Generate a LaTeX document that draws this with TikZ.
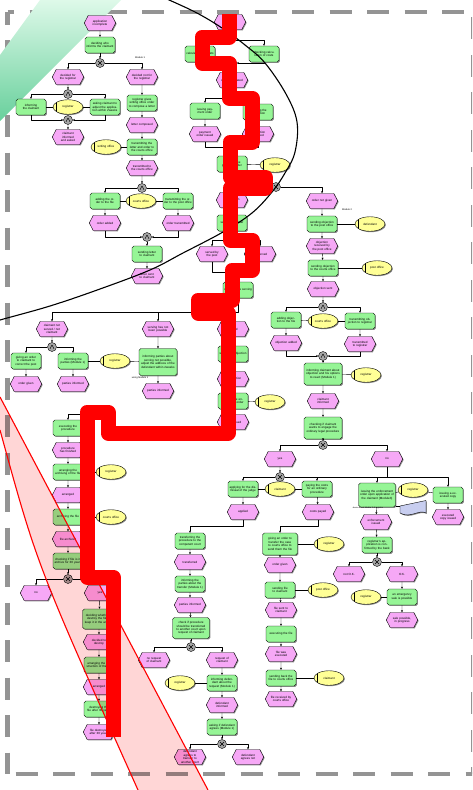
\documentclass[tikz,border=0pt]{standalone}
\usepackage{fontspec}
\setmainfont{Liberation Sans}
\usetikzlibrary{shapes.geometric,shapes.symbols,shadows,arrows.meta}
\definecolor{evpink}{RGB}{246,168,246}
\definecolor{fngreen}{RGB}{150,245,150}
\definecolor{orgyel}{RGB}{255,255,150}
\definecolor{docblue}{RGB}{200,206,240}
\definecolor{bandgreen}{RGB}{104,208,156}
\definecolor{bandlight}{RGB}{222,249,233}
\definecolor{bandpink}{RGB}{255,214,214}
\tikzset{
  shdw/.style={drop shadow={shadow xshift=0.9pt,shadow yshift=-0.9pt,fill=black!45,opacity=1}},
  ev/.style={signal, signal to=west and east, signal pointer angle=125, draw, thin, fill=evpink,
    minimum width=30pt, minimum height=15pt, inner sep=0.3pt, text width=23pt, align=center, shdw},
  fn/.style={rectangle, rounded corners=1.8pt, draw, thin, fill=fngreen, minimum width=30pt,
    minimum height=16pt, inner sep=0.5pt, text width=28pt, align=center, shdw},
  fnbig/.style={fn, minimum width=38pt, minimum height=22pt, text width=35pt},
  org/.style={ellipse, draw, thin, fill=orgyel, minimum width=30pt, minimum height=14.5pt,
    inner sep=0pt, text width=21pt, align=center, shdw, path picture={\draw[thin]
    ([xshift=3.2pt]path picture bounding box.south west) -- ([xshift=3.2pt]path picture bounding box.north west);}},
  con/.style={circle, draw, thin, fill=black!35, minimum size=9pt, inner sep=0pt},
  xorc/.style={con, path picture={\draw[line width=0.45pt]
    ([shift={(-2pt,-2pt)}]path picture bounding box.center) -- ([shift={(2pt,2pt)}]path picture bounding box.center)
    ([shift={(-2pt,2pt)}]path picture bounding box.center) -- ([shift={(2pt,-2pt)}]path picture bounding box.center);}},
  andc/.style={con, path picture={\draw[line width=0.45pt]
    ([shift={(-2pt,-1.8pt)}]path picture bounding box.center) -- ([shift={(0pt,2pt)}]path picture bounding box.center)
    -- ([shift={(2pt,-1.8pt)}]path picture bounding box.center);}},
  lbl/.style={font=\fontsize{2.4}{2.8}\selectfont, inner sep=0pt},
  frame/.style={line width=4.5pt, draw=black!42, dash pattern=on 22pt off 15.5pt},
}
\begin{document}
\begin{tikzpicture}[x=1pt, y=-1pt, font=\fontsize{3}{3.4}\selectfont, line join=round, >={Stealth[length=2.2pt,width=2pt]}]
\path[use as bounding box] (0,0) rectangle (472,790);
\clip (0,0) rectangle (472,790);
% dashed frame
\draw[frame, dash phase=15.5pt] (7.5,12) -- (473.5,12);
\draw[frame, dash phase=9.5pt] (7.5,12) -- (7.5,774);
\draw[frame, dash phase=29.5pt] (7.5,774) -- (473.5,774);
\draw[frame, dash phase=32.5pt] (473.5,12) -- (473.5,774);
% green stroke
\shade[top color=bandlight, bottom color=bandgreen] (0,121) -- (121,0) -- (40,0) -- (0,55) -- cycle;

% module 1
\node[ev] (eA0) at (100,23) {application incomplete};
\node[fn] (fA1) at (100,45) {deciding who informs the claimant};
\node[xorc] (xA1) at (100,63) {};
\node[lbl] (mA) at (140,58) {Module 1};
\node[ev] (eA2) at (68,77) {decided for the registrar};
\node[ev] (eA3) at (142,77) {decided not for the registrar};
\node[andc] (aA1) at (68,94) {};
\node[fn] (fA4) at (31,107) {informing the claimant};
\node[org] (oA1) at (68,107) {registrar};
\node[fn] (fA5) at (105,107) {asking claimant to adjust the application within 2weeks};
\node[andc] (aA2) at (68,120) {};
\node[ev] (eA6) at (68,137) {claimant informed and asked};
\node[fn] (fA7) at (142,103) {registrar gives writing office order to compose a letter};
\node[ev] (eA8) at (142,125) {letter composed};
\node[fn] (fA9) at (142,147) {transmitting the letter and order to the courts office};
\node[org] (oA2) at (106,147) {writing office};
\node[ev] (eA10) at (142,168) {transmitted to the courts office};
\node[andc] (aA3) at (142,188) {};
\node[fn] (fA11) at (105,201) {adding the order to the file};
\node[org] (oA3) at (141,201) {courts office};
\node[fn] (fA12) at (178,201) {transmitting the order to the post office};
\node[ev] (eA13) at (105,223) {order added};
\node[ev] (eA14) at (178,223) {order transmitted};
\node[andc] (aA4) at (147,237) {};
\node[fn] (fA15) at (147,254) {sending letter to claimant};
\node[ev] (eA16) at (147,276) {letter sent to claimant};

% middle column
\node[ev] (eB0) at (230,22) {objection possible};
\node[fn] (fB1) at (200,54) {calculating the costs};
\node[fn] (fB2) at (264,54) {checking calculation of costs};
\node[xorc] (xB1) at (232,63) {};
\node[ev] (eB3) at (232,80) {costs calculated};
\node[fn] (fB4) at (205,111) {issuing payment order};
\node[fn] (fB5) at (258,112) {adjusting the calculation};
\node[ev] (eB6) at (205,134) {payment order issued};
\node[ev] (eB7) at (258,134) {calculation adjusted};
\node[fn] (fB8) at (232,164) {checking the payment order};
\node[org] (oB1) at (275,165) {registrar};
\node[xorc] (xB2) at (276,187) {};
\node[ev] (eB9) at (232,200) {order given};
\node[fn] (fB10) at (232,223) {serving the order};
\node[ev] (eB11) at (212,254) {served by the post};
\node[ev] (eB12) at (260,254) {not served};
\node[fn] (fB13) at (238,290) {checking the serving};
\coordinate (cB0) at (230,40);
\coordinate (cB2) at (232,98);
\coordinate (cB3) at (232,147);
\coordinate (cB4) at (232,240);
\coordinate (cB5) at (238,272);
\coordinate (cB6) at (233,312);

% serving failed
\node[ev] (eC1) at (52,329) {claimant not served / not claimant};
\node[andc] (aC1) at (52,347) {};
\node[fn] (fC2) at (26,361) {giving an order to claimant to correct the post};
\node[fn] (fC3) at (73,361) {informing the parties (Module 1)};
\node[org] (oC1) at (115,361) {registrar};
\node[ev] (eC4) at (26,384) {order given};
\node[ev] (eC5) at (73,384) {parties informed};
\node[ev] (eC6) at (158,329) {serving has not been possible};
\node[fn, minimum width=38pt, minimum height=27pt, text width=35pt] (fC7) at (158,362) {informing parties about serving not possible, adjust the address of the defendant within 2weeks};
\node[lbl] (mC) at (140,378) {using Module 1};
\node[ev] (eC8) at (158,391) {parties informed};
\node[ev] (eC9) at (233,329) {served};
\node[fn] (fC10) at (233,354) {waiting for objection};
\node[ev] (eC11) at (233,379) {no objection};
\node[fn] (fC12) at (233,401) {issuing the enforcement order};
\node[org] (oC2) at (270,402) {registrar};
\node[ev] (eC13) at (233,422) {order issued};
\coordinate (cD1) at (102,433);
\coordinate (cD2) at (102,414);

% archive
\node[fn] (fD1) at (68,428) {executing the procedure};
\node[ev] (eD2) at (68,450) {procedure has finished};
\node[fn] (fD3) at (68,472) {arranging the archiving of the file};
\node[org] (oD1) at (111,472) {registrar};
\node[ev] (eD4) at (68,495) {arranged};
\node[fn] (fD5) at (68,517) {archiving the file};
\node[org] (oD2) at (111,517) {courts office};
\node[ev] (eD6) at (68,539) {file archived};
\node[fn] (fD7) at (68,561) {checking if file is in archive for 30 years};
\node[xorc] (xD1) at (68,579) {};
\node[ev] (eD8) at (36,593) {no};
\node[ev] (eD9) at (100,593) {yes};
\node[fn, minimum width=33pt, minimum height=20pt, text width=31pt] (fD10) at (99,619) {deciding whether to destroy the file or keep it in the archive};
\node[ev] (eD11) at (99,642) {decided to destroy};
\node[fn] (fD12) at (99,665) {arranging the destruction of the file};
\node[ev] (eD13) at (99,687) {arranged};
\node[fn] (fD14) at (99,709) {destroying the file after 30 years};
\node[ev] (eD15) at (99,732) {file destroyed after 30 years};

% module 2
\node[ev] (eE1) at (322,201) {order not given};
\node[lbl] (mE) at (347,210) {Module 2};
\node[fn] (fE2) at (322,224) {sending objection to the post office};
\node[org] (oE1) at (370,224) {defendant};
\node[ev] (eE3) at (322,246) {objection received by the post office};
\node[fn] (fE4) at (323,268) {sending objection to the courts office};
\node[org] (oE2) at (377,268) {post office};
\node[ev] (eE5) at (323,289) {objection sent};
\node[andc] (aE1) at (323,307) {};
\node[fn] (fE6) at (286,320) {adding objection to the file};
\node[org] (oE3) at (323,321) {courts office};
\node[fn] (fE7) at (360,321) {transmitting objection to registrar};
\node[ev] (eE8) at (286,343) {objection added};
\node[ev] (eE9) at (360,344) {transmitted to registrar};
\node[andc] (aE2) at (323,356) {};
\node[fnbig] (fE10) at (323,374) {informing claimant about objection and his options to react (Module 1)};
\node[org] (oE4) at (366,375) {registrar};
\node[ev] (eE11) at (323,401) {claimant informed};
\node[fnbig] (fE12) at (323,428) {checking if claimant wants to engage the ordinary legal procedure};
\node[xorc] (xE1) at (323,445) {};
\node[ev] (eE13) at (280,459) {yes};
\node[ev] (eE14) at (387,459) {no};
\coordinate (cH0) at (387,477);

% ordinary procedure
\node[xorc] (xF1) at (280,477) {};
\node[fn] (fF1) at (243,489) {applying for the dismissal of the judge};
\node[org] (oF1) at (280,489) {claimant};
\node[fn] (fF2) at (317,489) {paying the costs for an ordinary procedure};
\node[ev] (eF3) at (243,512) {applied};
\node[ev] (eF4) at (318,512) {costs payed};
\node[fn] (fF5) at (190,541) {transferring the procedure to the competent court};
\node[ev] (eF6) at (190,562) {transferred};
\node[fn] (fF7) at (190,584) {informing the parties about the transfer (Module 1)};
\node[ev] (eF8) at (190,605) {parties informed};
\node[fn, minimum width=37pt, minimum height=21pt, text width=34pt] (fF9) at (191,628) {check if procedure should be transferred to another court upon request of claimant};
\node[xorc] (xF2) at (191,647) {};
\node[ev] (eF10) at (154,660) {no request of claimant};
\node[ev] (eF11) at (222,660) {request of claimant};
\node[fn] (fF12) at (222,683) {informing defendant about the request (Module 1)};
\node[org] (oF2) at (180,683) {registrar};
\node[ev] (eF13) at (222,705) {defendant informed};
\node[fn] (fF14) at (222,727) {asking if defendant agrees (Module 1)};
\node[xorc] (xF3) at (222,744) {};
\node[ev] (eF15) at (190,757) {defendant agrees to transfer to another court};
\node[ev] (eF16) at (248,757) {defendant agrees not};

\node[fn, minimum width=35pt, minimum height=22pt, text width=33pt] (fG1) at (280,544) {giving an order to transfer the case to courts office to send them the file};
\node[org] (oG1) at (329,544) {registrar};
\node[ev] (eG2) at (280,565) {order given};
\node[fn] (fG3) at (280,590) {sending file to claimant};
\node[org] (oG2) at (323,590) {post office};
\node[ev] (eG4) at (281,610) {file sent to claimant};
\node[fn] (fG5) at (281,634) {executing the file};
\node[ev] (eG6) at (281,654) {file was executed};
\node[fn] (fG7) at (281,678) {sending back the file to courts office};
\node[org] (oG3) at (329,678) {claimant};
\node[ev] (eG8) at (281,699) {file received by courts office};

% enforcement
\node[fn, minimum width=37pt, minimum height=24pt, text width=34pt] (fH1) at (377,495) {issuing the enforcement order upon application of the claimant (Module3)};
\node[org] (oH1) at (413,490) {registrar};
\node[fn] (fH2) at (448,495) {issuing a executed copy};
\node[ev] (eH3) at (448,517) {executed copy issued};
\coordinate (dH1) at (400,506);
\node[lbl, font=\fontsize{2}{2.4}\selectfont] (mH) at (368,507.5) {device about Module 3 of registrar};
\node[ev] (eH4) at (376,522) {enforcement issued};
\node[fn] (fH5) at (377,545) {registrar's application is confirmed by the bank};
\node[xorc] (xH1) at (377,562) {};
\node[ev] (eH6) at (349,574) {not O.K.};
\node[ev] (eH7) at (402,574) {O.K.};
\node[fn] (fH8) at (402,597) {an emergency sale is possible};
\node[org] (oH2) at (366,597) {registrar};
\node[ev] (eH9) at (402,620) {sale possible, in progress};
\draw[thin, fill=docblue, shdw] (dH1) -- (426,500.5) -- (426,513) .. controls (419,509) and (410,519) .. (400,513) -- cycle;

% connectors
\foreach \a/\b in {eA0/fA1, fA1/xA1, eA2/aA1, aA2/eA6, eA3/fA7, fA7/eA8, eA8/fA9, fA9/eA10, eA10/aA3,
  fA11/eA13, fA12/eA14, aA4/fA15, fA15/eA16, xB1/eB3, fB4/eB6, fB5/eB7, cB3/fB8, eB9/fB10, cB5/fB13,
  eC1/aC1, fC2/eC4, fC3/eC5, eC6/fC7, fC7/eC8, eC9/fC10, fC10/eC11, eC11/fC12, fC12/eC13,
  fD1/eD2, eD2/fD3, fD3/eD4, eD4/fD5, fD5/eD6, eD6/fD7, fD7/xD1, eD9/fD10, fD10/eD11, eD11/fD12,
  fD12/eD13, eD13/fD14, fD14/eD15, eE1/fE2, fE2/eE3, eE3/fE4, fE4/eE5, eE5/aE1, fE6/eE8, fE7/eE9,
  aE2/fE10, fE10/eE11, eE11/fE12, fE12/xE1, eE13/xF1, fF1/eF3, fF2/eF4, fF5/eF6, eF6/fF7, fF7/eF8,
  eF8/fF9, fF9/xF2, eF11/fF12, fF12/eF13, eF13/fF14, fF14/xF3, fG1/eG2, eG2/fG3, fG3/eG4, eG4/fG5,
  fG5/eG6, eG6/fG7, fG7/eG8, fH1/eH4, eH4/fH5, fH5/xH1, eH7/fH8, fH8/eH9, fH2/eH3}
  \draw[->, thin] (\a) -- (\b);
\foreach \a/\b in {xA1/eA2, xA1/eA3, aA1/fA4, aA1/fA5, aA3/fA11, aA3/fA12, cB0/fB1, cB0/fB2, cB2/fB4,
  cB2/fB5, xB2/eB9, xB2/eE1, cB4/eB11, cB4/eB12, cB6/eC1, cB6/eC6, cB6/eC9, aC1/fC2, aC1/fC3,
  xD1/eD8, xD1/eD9, aE1/fE6, aE1/fE7, xE1/eE13, xE1/eE14, xF1/fF1, xF1/fF2, cH0/fH1, cH0/fH2,
  xF2/eF10, xF2/eF11, xF3/eF15, xF3/eF16, xH1/eH6, xH1/eH7}
  \draw[->, thin] (\a) -| (\b);
\foreach \a/\b in {fA4/aA2, fA5/aA2, eA13/aA4, eA14/aA4, fB1/xB1, fB2/xB1, eB6/cB3, eB7/cB3, fB8/xB2,
  eB11/cB5, fB13/cB6, eE8/aE2, eE9/aE2}
  \draw[->, thin] (\a) |- (\b);
\foreach \a/\b in {eB0/cB0, eB3/cB2, fB10/cB4, eE14/cH0, xF1/cH0}
  \draw[thin] (\a) -- (\b);
\foreach \a/\b in {oA1/fA4, oA1/fA5, oA2/fA9, oA3/fA11, oA3/fA12, oB1/fB8, oC1/fC3, oC1/fC7, oC2/fC12,
  oD1/fD3, oD2/fD5, oE1/fE2, oE2/fE4, oE3/fE6, oE3/fE7, oE4/fE10, oF1/fF1, oF1/fF2, oF2/fF12,
  oG1/fG1, oG2/fG3, oG3/fG7, oH1/fH1, oH1/fH2, oH2/fH8}
  \draw[thin] (\a) -- (\b);
\draw[->, thin] (eC13.south) |- (cD1) -- (cD2) -| (fD1.north);
\draw[->, thin] (eF3.south) -- ++(0,6) -| (fF5);
\draw[->, thin] (eF4.south) -- ++(0,6) -| (fG1);
\draw[thin] (fH1.east |- dH1) -- (dH1);

% black curve
\draw[line width=1.1pt] plot[smooth, tension=0.6] coordinates {(160,-4) (195,12) (222,28) (245,45) (265,63)
  (286,94) (297,122) (295,152) (285,173) (272,192) (252,213) (223,232) (183,253) (150,270) (100,289) (50,306) (0,320) (-5,322)};

% pink band
\begin{scope}[blend mode=multiply]
\fill[bandpink] (0,397) -- (208,790) -- (138,790) .. controls (37,565) .. (0,430) -- cycle;
\end{scope}
\draw[red, line width=1.1pt] (0,397) -- (208,790) (138,790) .. controls (37,565) .. (0,430);

% red route
\draw[red, line width=15pt, line join=round] (229,14) -- (229,37) -- (202,37) -- (202,63) -- (229,63)
  -- (229,98) -- (252,98) -- (252,142) -- (230,142) -- (230,177) -- (265,177) -- (265,188) -- (230,188)
  -- (230,240) -- (252,240) -- (252,270) -- (232,270) -- (232,300) -- (198,300) -- (198,313) -- (228,313)
  -- (228,433) -- (108,433) -- (108,412) -- (87,412) -- (87,577) -- (113,577) -- (113,737);
\end{tikzpicture}
\end{document}
